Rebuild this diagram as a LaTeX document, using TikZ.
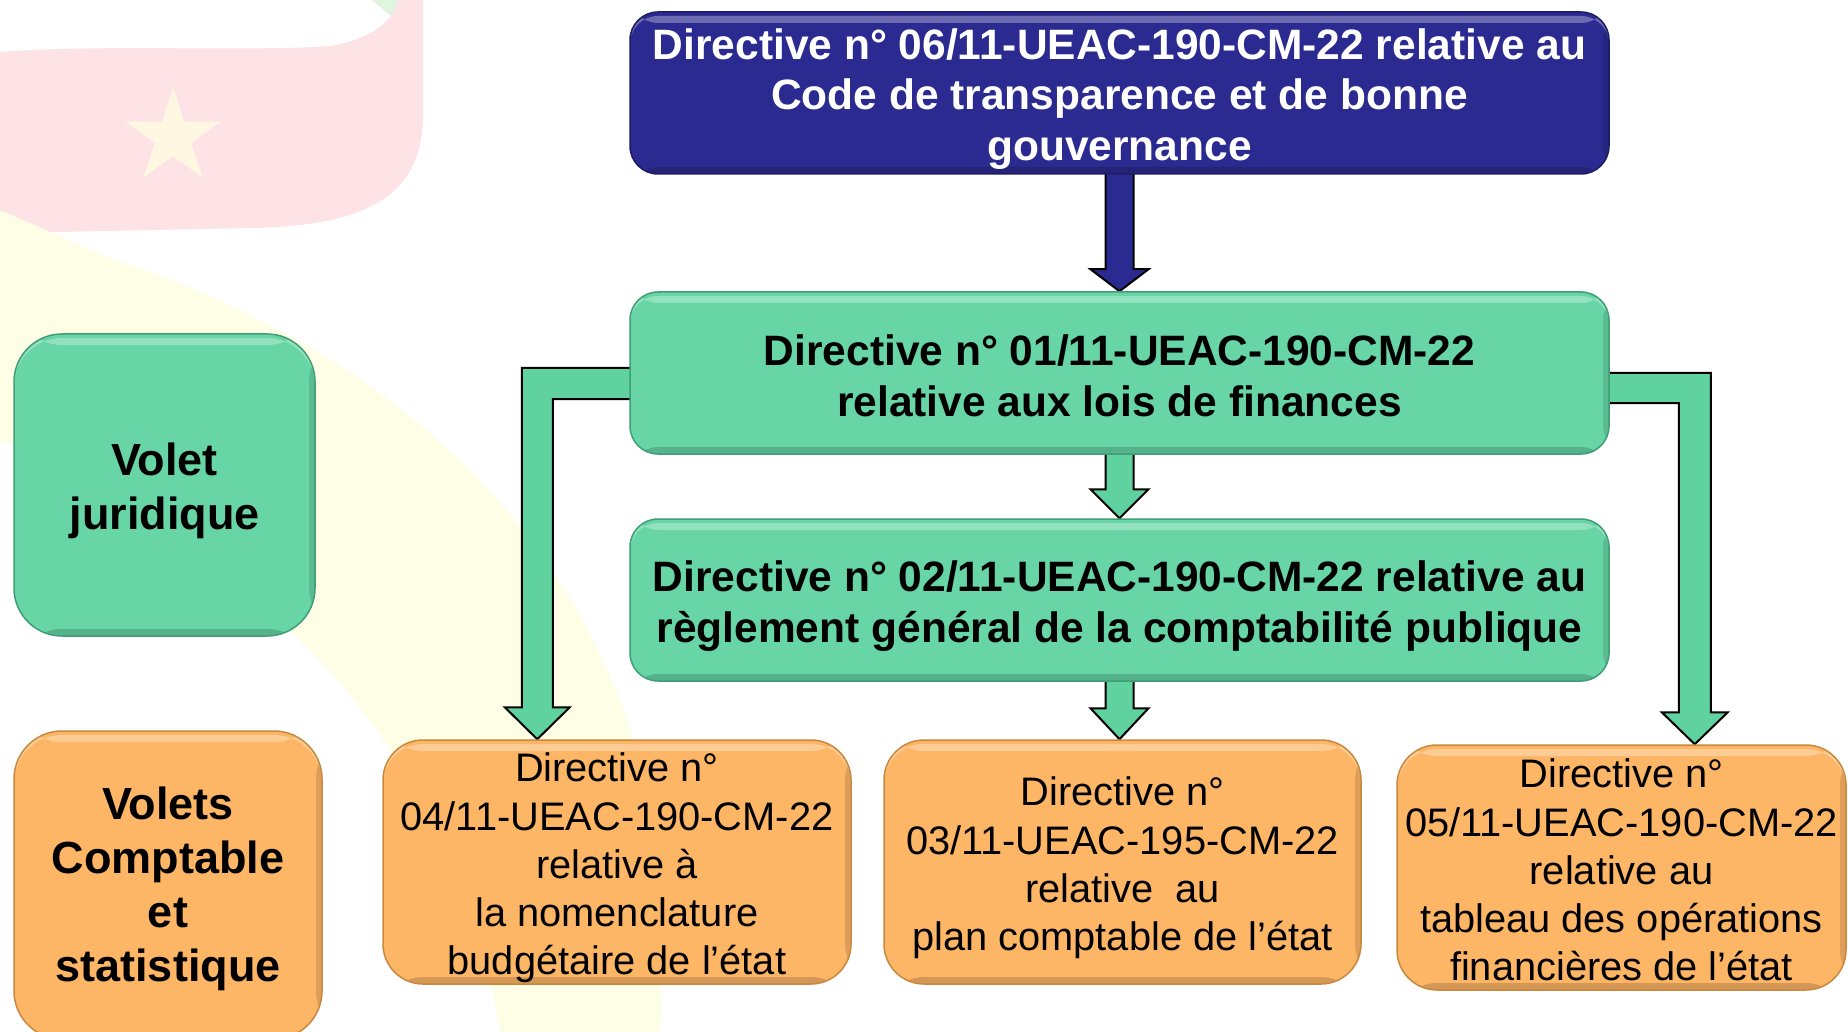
\documentclass[tikz,border=0pt]{standalone}
\usepackage{fontspec}
\setmainfont{Liberation Sans}
\usetikzlibrary{calc}
\pgfdeclarelayer{bg}
\pgfdeclarelayer{arr}
\pgfsetlayers{bg,arr,main}
\definecolor{bluefill}{HTML}{2B2A90}
\definecolor{blueline}{HTML}{1C1C66}
\definecolor{greenfill}{HTML}{67D5A6}
\definecolor{greenline}{HTML}{3E9E76}
\definecolor{orangefill}{HTML}{FDB566}
\definecolor{orangeline}{HTML}{C8893F}
\definecolor{flagpink}{HTML}{FDE3E6}
\definecolor{flagstar}{HTML}{FEF8E2}
\definecolor{flagyellow}{HTML}{FEFDE6}
\definecolor{flaggreen}{HTML}{E0F5E0}
\definecolor{arrowgreen}{HTML}{5FD2A0}
\newcommand{\topgap}[1]{\rule{0pt}{#1pt}}
\tikzset{
  bevel/.style={path picture={
    \fill[white,opacity=0.3] ([yshift=-4pt]path picture bounding box.north west) rectangle ([yshift=-11pt]path picture bounding box.north east);
    \fill[black,opacity=0.16] ([yshift=7pt]path picture bounding box.south west) rectangle (path picture bounding box.south east);
    \fill[black,opacity=0.12] ([xshift=-6pt]path picture bounding box.north east) rectangle (path picture bounding box.south east);
  }},
  boxbase/.style={rectangle, inner sep=0pt, align=center, line width=1.5pt, bevel},
  bluebox/.style={boxbase, rounded corners=28pt, fill=bluefill, draw=blueline, text=white,
    font=\bfseries\fontsize{42.5}{50.7}\selectfont},
  greenbox/.style={boxbase, rounded corners=28pt, fill=greenfill, draw=greenline, text=black,
    font=\bfseries\fontsize{42.5}{51}\selectfont},
  orangebox/.style={boxbase, rounded corners=40pt, fill=orangefill, draw=orangeline, text=black,
    font=\fontsize{39.8}{48.3}\selectfont},
  sidegreen/.style={greenbox, rounded corners=48pt, font=\bfseries\fontsize{45}{54}\selectfont},
  sideorange/.style={orangebox, rounded corners=48pt, font=\bfseries\fontsize{45}{54}\selectfont},
  fatarrow/.style={line width=2pt, draw=black, line join=miter},
  bluearrow/.style={fatarrow, fill=bluefill},
  greenarrow/.style={fatarrow, fill=arrowgreen},
}
\begin{document}
\begin{tikzpicture}[x=1pt,y=-1pt]
\useasboundingbox (0,0) rectangle (1848,1032);
\clip (0,0) rectangle (1848,1032);

% ---------- boxes ----------
\node[bluebox, minimum width=979pt, minimum height=162pt] (b0) at (1119.5,93)
  {\topgap{43}Directive n° 06/11-UEAC-190-CM-22 relative au\\Code de transparence et de bonne\\gouvernance};
\node[greenbox, minimum width=979pt, minimum height=162pt] (g1) at (1119.5,373)
  {\topgap{36}Directive n° 01/11-UEAC-190-CM-22\\relative aux lois de finances};
\node[greenbox, minimum width=979pt, minimum height=162pt] (g2) at (1119.5,600)
  {\topgap{43}Directive n° 02/11-UEAC-190-CM-22 relative au\\règlement général de la comptabilité publique};
\node[orangebox, minimum width=468pt, minimum height=244pt] (o1) at (617,862)
  {\topgap{41}Directive n°\\04/11-UEAC-190-CM-22\\relative à\\la nomenclature\\budgétaire de l’état};
\node[orangebox, minimum width=477pt, minimum height=244pt] (o2) at (1122.5,862)
  {\topgap{41}Directive n°\\03/11-UEAC-195-CM-22\\relative~ au\\plan comptable de l’état};
\node[orangebox, minimum width=449pt, minimum height=245pt] (o3) at (1621.5,867.5)
  {\topgap{34}Directive n°\\05/11-UEAC-190-CM-22\\relative au\\tableau des opérations\\financières de l’état};
\node[sidegreen, minimum width=301pt, minimum height=302pt] (vj) at (164.5,485)
  {\topgap{45}Volet\\juridique};
\node[sideorange, minimum width=308pt, minimum height=308pt] (vc) at (168,885)
  {\topgap{40}Volets\\Comptable\\et\\statistique};

% ---------- connectors ----------
\begin{pgfonlayer}{arr}
\draw[bluearrow] ($(b0.south)+(-14,-8)$) -- ($(g1.north)+(-14,-22)$) -- ($(g1.north)+(-29,-22)$)
  -- (g1.north) -- ($(g1.north)+(29,-22)$) -- ($(g1.north)+(14,-22)$) -- ($(b0.south)+(14,-8)$) -- cycle;
\draw[greenarrow] ($(g1.south)+(-14,-8)$) -- ($(g2.north)+(-14,-29)$) -- ($(g2.north)+(-29,-29)$)
  -- (g2.north) -- ($(g2.north)+(29,-29)$) -- ($(g2.north)+(14,-29)$) -- ($(g1.south)+(14,-8)$) -- cycle;
\coordinate (t2) at (g2.south |- o2.north);
\draw[greenarrow] ($(g2.south)+(-14,-8)$) -- ($(t2)+(-14,-31)$) -- ($(t2)+(-29,-31)$)
  -- (t2) -- ($(t2)+(29,-31)$) -- ($(t2)+(14,-31)$) -- ($(g2.south)+(14,-8)$) -- cycle;
% left bent arrow
\coordinate (ls) at ($(g1.west)+(12,10.5)$);
\coordinate (lt) at ($(o1.north west)+(155,0)$);
\draw[greenarrow] ($(ls)+(0,-15.5)$) -- ($(ls -| lt)+(-15.5,-15.5)$) -- ($(lt)+(-15.5,-32)$)
  -- ($(lt)+(-32.5,-32)$) -- (lt) -- ($(lt)+(32.5,-32)$) -- ($(lt)+(15.5,-32)$)
  -- ($(ls -| lt)+(15.5,15.5)$) -- ($(ls)+(0,15.5)$) -- cycle;
% right bent arrow
\coordinate (rs) at ($(g1.east)+(-12,15)$);
\coordinate (rt) at ($(o3.north east)+(-152,0)$);
\draw[greenarrow] ($(rs)+(0,-15)$) -- ($(rs -| rt)+(16,-15)$) -- ($(rt)+(16,-32)$)
  -- ($(rt)+(33,-32)$) -- (rt) -- ($(rt)+(-33,-32)$) -- ($(rt)+(-16,-32)$)
  -- ($(rs -| rt)+(-16,15)$) -- ($(rs)+(0,15)$) -- cycle;
\end{pgfonlayer}

% ---------- faint flag background ----------
\begin{pgfonlayer}{bg}
\fill[white] (0,0) rectangle (1848,1032);
\fill[flaggreen] (372,0) -- (406,0) -- (392,17) -- cycle;
\fill[flagpink] (0,52) .. controls (100,44) and (250,52) .. (330,46)
  .. controls (370,40) and (395,20) .. (398,0) -- (423,0) -- (423,115)
  .. controls (423,200) and (360,226) .. (250,228) -- (60,232)
  .. controls (30,233) and (10,236) .. (0,238) -- cycle;
\fill[flagstar] (173,87) -- (184.2,121.6) -- (220.6,121.5) -- (191.1,142.9) -- (202.4,177.5)
  -- (173,156) -- (143.6,177.5) -- (154.9,142.9) -- (125.4,121.5) -- (161.8,121.6) -- cycle;
\fill[flagyellow] (0,210) -- (110,258) .. controls (330,330) and (560,480) .. (640,760)
  .. controls (660,850) and (665,950) .. (660,1032) -- (500,1032)
  .. controls (480,900) and (420,760) .. (300,640)
  .. controls (200,560) and (100,480) .. (0,440) -- cycle;
\end{pgfonlayer}
\end{tikzpicture}
\end{document}
